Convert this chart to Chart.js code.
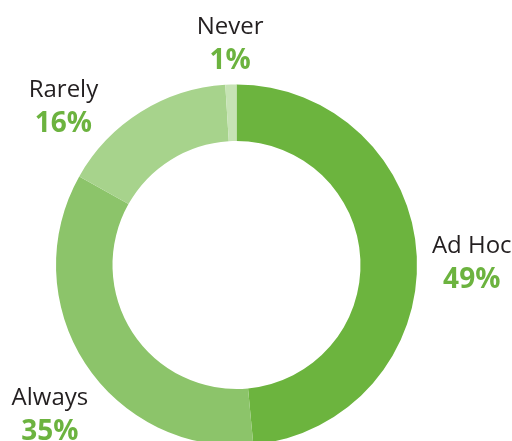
<!DOCTYPE html>
<html>
<head>
    <script src="https://cdn.jsdelivr.net/npm/chart.js"></script>
    <meta charset="UTF-8">
    <title>Frequency Doughnut</title>
    <style>
        html, body {
            margin: 0;
            padding: 0;
            background: #ffffff;
            overflow: hidden;
        }
        #wrap {
            width: 512px;
            height: 441px;
            overflow: hidden;
        }
    </style>
</head>
<body>
    <div id="wrap">
        <canvas id="donut" width="512" height="460"></canvas>
    </div>

    <script>
        // values
        const categories = ["Ad Hoc", "Always", "Rarely", "Never"];
        const shares = [49, 35, 16, 1];
        const sliceColors = ["#6cb43e", "#8cc46a", "#a7d38c", "#c6e3b4"];

        // label placement: anchor on a ring outside the doughnut, then small nudges
        const labelPlugin = {
            id: 'outsideLabels',
            afterDraw(chart, args, opts) {
                const ctx = chart.ctx;
                const arcs = chart.getDatasetMeta(0).data;
                ctx.save();
                ctx.textAlign = 'center';
                ctx.textBaseline = 'alphabetic';
                arcs.forEach((arc, i) => {
                    const mid = (arc.startAngle + arc.endAngle) / 2;
                    const r = arc.outerRadius + opts.gap;
                    const nudge = opts.nudge[i] || [0, 0];
                    const x = arc.x + Math.cos(mid) * r + nudge[0];
                    const y = arc.y + Math.sin(mid) * r + nudge[1];
                    ctx.fillStyle = '#231f20';
                    ctx.font = '24px "Open Sans", sans-serif';
                    ctx.fillText(categories[i], x, y - 9);
                    ctx.fillStyle = '#6cb33f';
                    ctx.font = 'bold 28px "Open Sans", sans-serif';
                    ctx.fillText(shares[i] + '%', x, y + 26);
                });
                ctx.restore();
            }
        };

        const ctx = document.getElementById('donut').getContext('2d');
        const donut = new Chart(ctx, {
            type: 'doughnut',
            data: {
                labels: categories,
                datasets: [{
                    data: shares,
                    backgroundColor: sliceColors,
                    borderWidth: 0
                }]
            },
            options: {
                responsive: false,
                animation: false,
                cutout: '68.7%',
                layout: {
                    padding: { left: 56, right: 95, top: 84.5, bottom: 14.5 }
                },
                plugins: {
                    legend: { display: false },
                    tooltip: { enabled: false },
                    outsideLabels: {
                        gap: 55,
                        nudge: [[0, 8], [11, 21], [-48, 41], [1, 13]]
                    }
                }
            },
            plugins: [labelPlugin]
        });
    </script>
</body>
</html>
